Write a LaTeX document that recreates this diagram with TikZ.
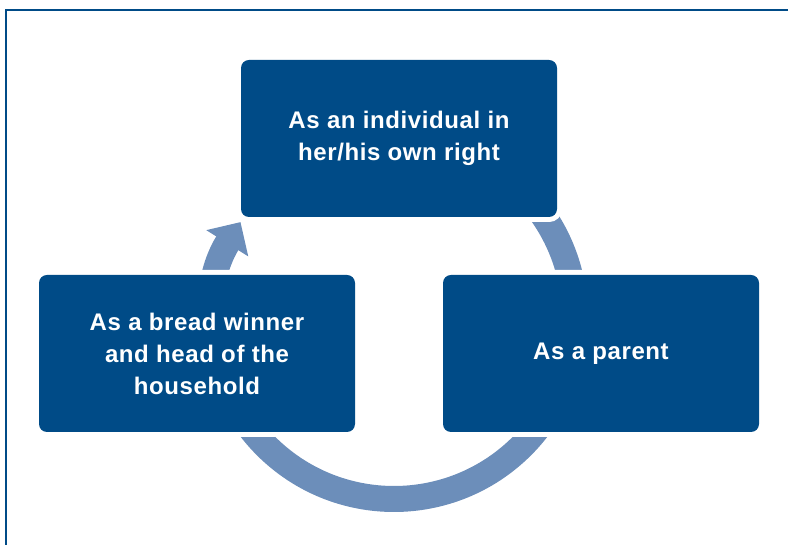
\documentclass[tikz,border=0pt]{standalone}
\usepackage{fontspec}
\setmainfont{Liberation Sans}
\newfontfamily\rolefont[LetterSpace=2.5]{Liberation Sans}
\usetikzlibrary{arrows.meta}

\definecolor{roleblue}{RGB}{0,75,135}
\definecolor{ringblue}{RGB}{108,142,186}

\tikzset{
  role box/.style={
    fill = roleblue,
    rounded corners = 8pt,
    inner sep = 0pt,
    minimum width = 316pt,
    minimum height = 157pt,
    text = white,
    align = center,
    font = \rolefont\bfseries\fontsize{24}{32}\selectfont,
    preaction = {draw = white, line width = 10pt},
  },
  cycle arrow/.style={
    draw = ringblue,
    line width = 26pt,
    -{Triangle[width = 48pt, length = 25pt]},
  }
}

\begin{document}
\begin{tikzpicture}[x=1pt, y=1pt]
            \useasboundingbox (0,0) rectangle (788,545);

            % frame runs off the page on the right and at the bottom
            \draw[roleblue, line width=2.2pt] (800,535) -- (6,535) -- (6,-10);

            % ring goes behind the three boxes
            \coordinate (hub) at (394,227);
            \draw[cycle arrow] (hub) ++(45:181) arc[start angle=45, end angle=-212, radius=181];

            \node[role box] (individual) at (399,406.5) {As an individual in\\her/his own right};
            \node[role box] (breadwinner) at (197,191.5) {As a bread winner\\and head of the\\household};
            \node[role box] (parent) at (601,191.5) {As a parent};
        \end{tikzpicture}
\end{document}
